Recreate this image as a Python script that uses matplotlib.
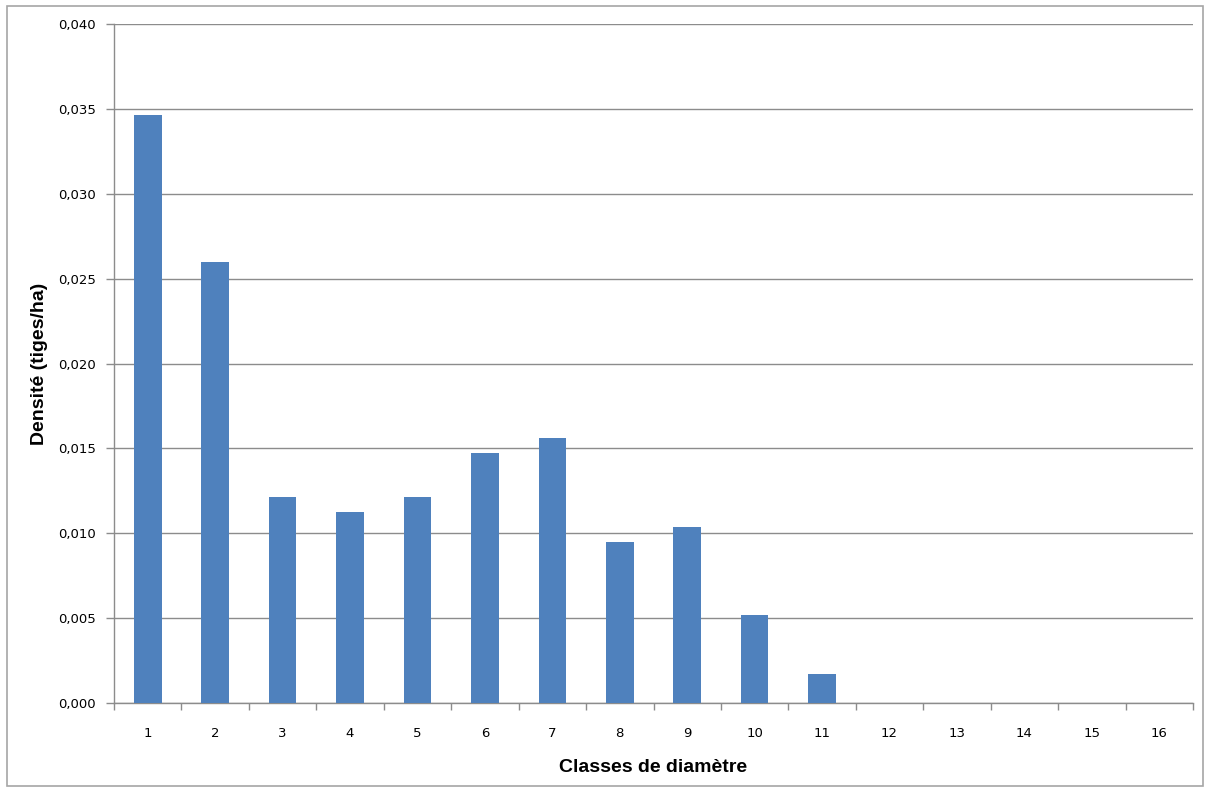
import matplotlib
matplotlib.use("Agg")
import matplotlib.pyplot as plt
from matplotlib.patches import Rectangle
from matplotlib.ticker import FixedLocator, FuncFormatter

categories = [str(i) for i in range(1, 17)]
values = [0.03464, 0.02598, 0.01214, 0.01125, 0.01214, 0.01473, 0.01561,
          0.00948, 0.01037, 0.00518, 0.00171, 0, 0, 0, 0, 0]
yticks = [0.000, 0.005, 0.010, 0.015, 0.020, 0.025, 0.030, 0.035, 0.040]

W, H = 1206, 789
fig = plt.figure(figsize=(W / 100, H / 100), dpi=100)
fig.patches.append(Rectangle((7 / W, 1 - 786 / H), 1196 / W, 780 / H,
                             transform=fig.transFigure, fill=False,
                             edgecolor="#A6A6A6", linewidth=1.2))
ax = fig.add_axes([114 / W, 1 - 703 / H, (1193 - 114) / W, (703 - 24) / H])

x = list(range(len(categories)))
ax.bar(x, values, width=0.41, color="#4F81BD", zorder=3)
ax.set_xlim(-0.5, len(categories) - 0.5)
ax.set_ylim(0, 0.040)

ax.set_yticks(yticks)
ax.yaxis.set_major_formatter(FuncFormatter(lambda v, p: f"{v:.3f}".replace(".", ",")))
ax.grid(axis="y", color="#8C8C8C", linewidth=1.0, zorder=0)
ax.set_xticks(x)
ax.set_xticklabels(categories)
ax.xaxis.set_minor_locator(FixedLocator([i - 0.5 for i in range(len(categories) + 1)]))
ax.tick_params(axis="x", which="major", length=0, pad=17, labelsize=9.5)
ax.tick_params(axis="x", which="minor", length=5, color="#8C8C8C", width=1)
ax.tick_params(axis="y", length=6, color="#8C8C8C", width=1, labelsize=9.5, pad=7)

for s in ["top", "right"]:
    ax.spines[s].set_visible(False)
for s in ["left", "bottom"]:
    ax.spines[s].set_color("#8C8C8C")
    ax.spines[s].set_linewidth(1.0)

ax.set_xlabel("Classes de diamètre", fontsize=14, fontweight="bold",
              family="Liberation Sans", labelpad=14)
ax.set_ylabel("Densité (tiges/ha)", fontsize=14, fontweight="bold",
              family="Liberation Sans", labelpad=7)

fig.savefig("out.png", dpi=100)
